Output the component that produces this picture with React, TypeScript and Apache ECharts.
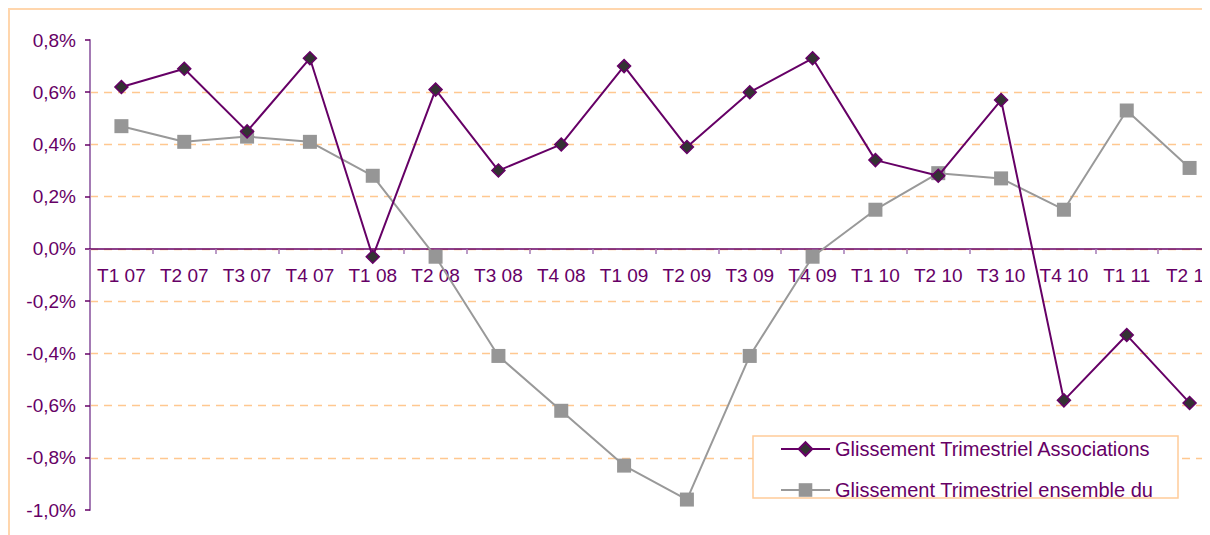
import React, { useEffect, useRef } from "react";
import * as echarts from "echarts";

const categories = [
  "T1 07", "T2 07", "T3 07", "T4 07",
  "T1 08", "T2 08", "T3 08", "T4 08",
  "T1 09", "T2 09", "T3 09", "T4 09",
  "T1 10", "T2 10", "T3 10", "T4 10",
  "T1 11", "T2 11",
];

const associations = [
  0.62, 0.69, 0.45, 0.73,
  -0.03, 0.61, 0.30, 0.40,
  0.70, 0.39, 0.60, 0.73,
  0.34, 0.28, 0.57, -0.58,
  -0.33, -0.59,
];

const ensemble = [
  0.47, 0.41, 0.43, 0.41,
  0.28, -0.03, -0.41, -0.62,
  -0.83, -0.96, -0.41, -0.03,
  0.15, 0.29, 0.27, 0.15,
  0.53, 0.31,
];

const seriesNames = [
  "Glissement Trimestriel Associations",
  "Glissement Trimestriel ensemble du",
];

const yMin = -1.0;
const yMax = 0.8;
const yStep = 0.2;

const PURPLE = "#660066";
const PEACH = "#FFCC99";
const FONT = "'Liberation Sans', Arial, sans-serif";

const GRID_TOP = 32;
const GRID_BOTTOM = 58;
const CHART_H = 560;

export default function App() {
  const ref = useRef<HTMLDivElement>(null);

  useEffect(() => {
    if (!ref.current) return;
    const chart = echarts.init(ref.current, null, { renderer: "svg" });
    const plotH = CHART_H - GRID_TOP - GRID_BOTTOM;
    const zeroOffset = -plotH * ((0 - yMin) / (yMax - yMin));
    chart.setOption({
      animation: false,
      backgroundColor: "#ffffff",
      textStyle: { fontFamily: FONT },
      grid: { left: 82, top: GRID_TOP, bottom: GRID_BOTTOM, right: 27 },
      graphic: [
        {
          type: "rect",
          z: 0,
          shape: { x: 1, y: 1, width: 1400, height: 700 },
          style: { fill: "none", stroke: "#FFD6AD", lineWidth: 2 },
        },
        {
          type: "rect",
          z: 3,
          shape: { x: 745, y: 428, width: 425, height: 62 },
          style: { fill: "#ffffff", stroke: PEACH, lineWidth: 1.5 },
        },
      ],
      legend: {
        orient: "vertical",
        left: 772,
        top: 431,
        padding: 0,
        itemWidth: 49,
        itemHeight: 17,
        itemGap: 21,
        z: 5,
        textStyle: {
          color: PURPLE,
          fontSize: 20,
          lineHeight: 20,
          fontFamily: FONT,
        },
        data: seriesNames,
      },
      xAxis: {
        type: "category",
        data: categories,
        boundaryGap: true,
        offset: zeroOffset,
        axisLine: { onZero: false, lineStyle: { color: PURPLE, width: 1.5 } },
        axisTick: { show: true, length: 5, lineStyle: { color: "#A47AB4", width: 1.5 } },
        axisLabel: {
          interval: 0,
          color: PURPLE,
          fontSize: 19,
          margin: 17,
          fontFamily: FONT,
        },
        splitLine: { show: false },
      },
      yAxis: {
        type: "value",
        min: yMin,
        max: yMax,
        interval: yStep,
        axisLine: { show: true, lineStyle: { color: "#A47AB4", width: 2 } },
        axisTick: { show: true, length: 5, lineStyle: { color: PURPLE, width: 1.5 } },
        axisLabel: {
          color: PURPLE,
          fontSize: 19,
          margin: 14,
          fontFamily: FONT,
          formatter: (v: number) => {
            const x = Math.abs(v) < 1e-9 ? 0 : v;
            return x.toFixed(1).replace(".", ",") + "%";
          },
        },
        splitLine: {
          show: true,
          showMinLine: false,
          showMaxLine: false,
          lineStyle: { color: "#FFC890", type: [8, 6], width: 1.3 },
        },
      },
      series: [
        {
          name: seriesNames[0],
          type: "line",
          data: associations,
          symbol: "diamond",
          symbolSize: 13,
          z: 3,
          lineStyle: { color: PURPLE, width: 2 },
          itemStyle: { color: "#333333", borderColor: PURPLE, borderWidth: 1.5 },
        },
        {
          name: seriesNames[1],
          type: "line",
          data: ensemble,
          symbol: "rect",
          symbolSize: 14,
          z: 2,
          lineStyle: { color: "#999999", width: 2 },
          itemStyle: { color: "#969696" },
        },
      ],
    });
    return () => chart.dispose();
  }, []);

  return (
    <div style={{ width: 1202, height: 527, overflow: "hidden" }}>
      <div ref={ref} style={{ width: 1240, height: CHART_H }} />
    </div>
  );
}
